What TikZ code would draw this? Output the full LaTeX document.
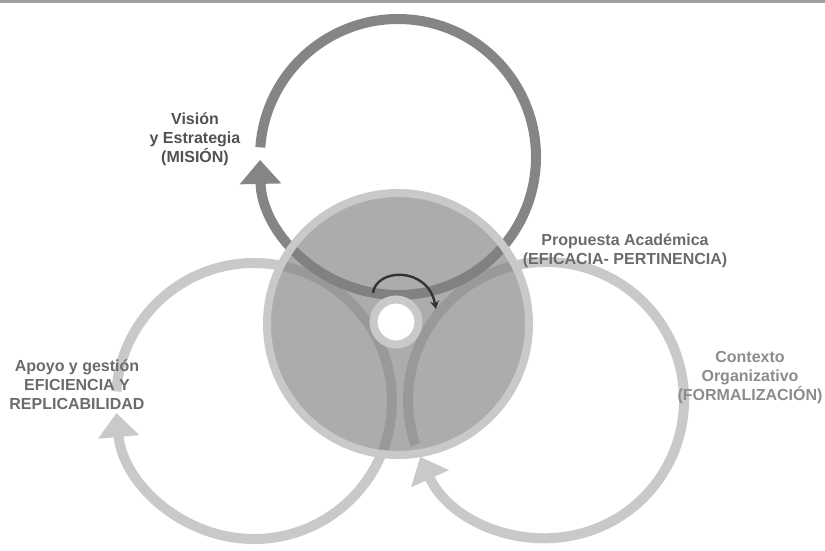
\documentclass[tikz,border=0pt]{standalone}
\usepackage{fontspec}
\setmainfont{Liberation Sans}
\usetikzlibrary{arrows.meta}
\definecolor{dk}{HTML}{858585}
\definecolor{lt}{HTML}{C9C9C9}
\definecolor{tx}{HTML}{6B6B6B}

\begin{document}
\begin{tikzpicture}[x=1pt,y=-1pt,lbl/.style={font=\bfseries\fontsize{16}{19}\selectfont,align=center,text=tx,inner sep=0},loop/.style={line width=10pt,-{Triangle[width=40pt,length=24pt]}}]
\useasboundingbox (0,0) rectangle (825,550);
\draw[gray!75,line width=3pt] (0,1.5)--(825,1.5);
\coordinate (cv) at (398,157);\coordinate (ca) at (254,401);\coordinate (cc) at (546,400);
% three cycles
\draw[loop,lt] ([shift={(184:138)}]ca) arc[start angle=184,end angle=535,radius=138];
\draw[loop,lt] ([shift={(161:138)}]cc) arc[start angle=161,end angle=515.7,radius=138];
\draw[loop,dk] ([shift={(184:138)}]cv) arc[start angle=184,end angle=538.8,radius=138];
% core
\coordinate (mid) at (398,324);
\fill[gray,fill opacity=.65] (mid) circle[radius=131];
\draw[lt,line width=8pt] (mid) circle[radius=131];
\node[circle,fill=white,draw=lt,line width=8pt,minimum size=45pt,inner sep=0] (hub) at (396,322) {};
\coordinate (rs) at (373,293);\coordinate (re) at (436,309);
\draw[line width=2.4pt,black!80,-{Stealth[length=8pt,width=9pt]}] (rs) .. controls (376,268) and (428,266) .. (re);
% labels
\node[lbl,text=black!68] (vis) at (195,139) {Visión\\y Estrategia\\(MISIÓN)};
\node[lbl] (pro) at (625,251) {Propuesta Académica\\(EFICACIA- PERTINENCIA)};
\node[lbl] (apo) at (77,385) {Apoyo y gestión\\EFICIENCIA Y\\REPLICABILIDAD};
\node[lbl,text=black!45] (con) at (750,378) {Contexto\\Organizativo\\(FORMALIZACIÓN)};
\end{tikzpicture}
\end{document}
